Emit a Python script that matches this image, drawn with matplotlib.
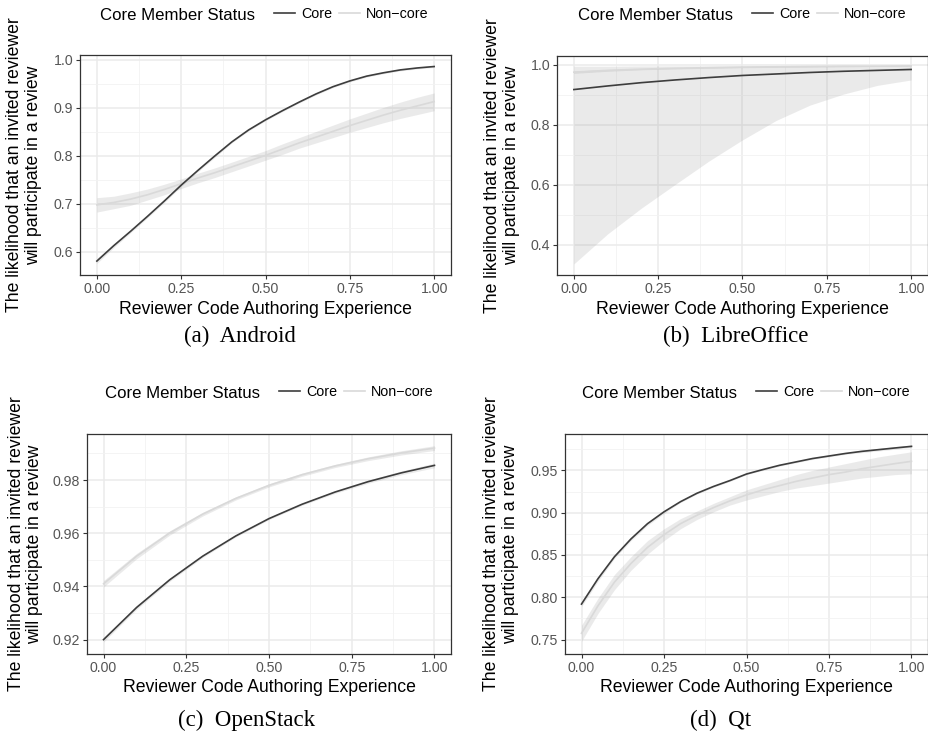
import matplotlib
matplotlib.use("Agg")
import matplotlib.pyplot as plt
from matplotlib.ticker import FixedLocator, FormatStrFormatter

# ---------------- data ----------------
experience = [0.0, 0.1, 0.2, 0.3, 0.4, 0.5, 0.6, 0.7, 0.8, 0.9, 1.0]
experience_fine = [0.0, 0.05, 0.1, 0.15, 0.2, 0.25, 0.3, 0.35, 0.4, 0.45, 0.5,
                   0.55, 0.6, 0.65, 0.7, 0.75, 0.8, 0.85, 0.9, 0.95, 1.0]
series_names = ["Core", "Non\u2212core"]

# (a) Android  (on experience_fine)
android_core = [0.581, 0.613, 0.643, 0.674, 0.706, 0.739, 0.770, 0.800, 0.829, 0.854, 0.875,
                0.894, 0.912, 0.929, 0.944, 0.956, 0.966, 0.973, 0.979, 0.983, 0.986]
android_core_lo = [0.576, 0.609, 0.640, 0.671, 0.703, 0.736, 0.767, 0.797, 0.827, 0.852, 0.873,
                   0.892, 0.910, 0.927, 0.942, 0.954, 0.964, 0.971, 0.977, 0.981, 0.984]
android_core_hi = [0.586, 0.617, 0.646, 0.677, 0.709, 0.742, 0.773, 0.803, 0.831, 0.856, 0.877,
                   0.896, 0.914, 0.931, 0.946, 0.958, 0.968, 0.975, 0.981, 0.985, 0.988]
android_non = [0.698, 0.703, 0.710, 0.719, 0.730, 0.742, 0.754, 0.765, 0.777, 0.789, 0.801,
               0.814, 0.827, 0.839, 0.851, 0.863, 0.874, 0.885, 0.895, 0.904, 0.913]
android_non_lo = [0.683, 0.690, 0.697, 0.708, 0.719, 0.732, 0.744, 0.755, 0.767, 0.779, 0.791,
                  0.803, 0.816, 0.827, 0.838, 0.849, 0.859, 0.869, 0.878, 0.886, 0.894]
android_non_hi = [0.713, 0.716, 0.723, 0.731, 0.741, 0.752, 0.764, 0.775, 0.787, 0.799, 0.811,
                  0.825, 0.838, 0.851, 0.864, 0.877, 0.889, 0.901, 0.912, 0.922, 0.931]

# (b) LibreOffice  (on experience)
libre_core = [0.918, 0.930, 0.941, 0.950, 0.958, 0.965, 0.970, 0.975, 0.979, 0.982, 0.985]
libre_core_lo = [0.336, 0.436, 0.522, 0.601, 0.679, 0.750, 0.815, 0.866, 0.903, 0.932, 0.950]
libre_core_hi = [0.996, 0.996, 0.997, 0.997, 0.997, 0.997, 0.998, 0.998, 0.998, 0.998, 0.998]
libre_non = [0.976, 0.982, 0.986, 0.989, 0.991, 0.993, 0.994, 0.995, 0.996, 0.996, 0.997]
libre_non_lo = [0.972, 0.979, 0.984, 0.987, 0.989, 0.991, 0.992, 0.993, 0.994, 0.995, 0.995]
libre_non_hi = [0.980, 0.985, 0.988, 0.991, 0.993, 0.994, 0.995, 0.996, 0.997, 0.997, 0.998]

# (c) OpenStack  (on experience)
openstack_core = [0.9200, 0.9321, 0.9425, 0.9514, 0.9590, 0.9655, 0.9709, 0.9755, 0.9794, 0.9827, 0.9855]
openstack_core_lo = [0.9191, 0.9314, 0.9419, 0.9509, 0.9586, 0.9651, 0.9705, 0.9750, 0.9788, 0.9820, 0.9846]
openstack_core_hi = [0.9209, 0.9328, 0.9431, 0.9519, 0.9594, 0.9659, 0.9713, 0.9760, 0.9800, 0.9834, 0.9864]
openstack_non = [0.9410, 0.9514, 0.9601, 0.9672, 0.9731, 0.9780, 0.9820, 0.9853, 0.9880, 0.9902, 0.9920]
openstack_non_lo = [0.9398, 0.9504, 0.9593, 0.9665, 0.9725, 0.9774, 0.9814, 0.9847, 0.9873, 0.9894, 0.9911]
openstack_non_hi = [0.9422, 0.9524, 0.9609, 0.9679, 0.9737, 0.9786, 0.9826, 0.9859, 0.9887, 0.9910, 0.9929]

# (d) Qt  (on experience_fine)
qt_core = [0.792, 0.822, 0.848, 0.869, 0.887, 0.901, 0.913, 0.923, 0.931, 0.938, 0.9457,
           0.951, 0.956, 0.960, 0.964, 0.967, 0.970, 0.9725, 0.9745, 0.9765, 0.9784]
qt_core_lo = [0.789, 0.819, 0.846, 0.867, 0.885, 0.899, 0.912, 0.922, 0.930, 0.937, 0.945,
              0.950, 0.955, 0.959, 0.963, 0.966, 0.969, 0.971, 0.973, 0.975, 0.977]
qt_core_hi = [0.795, 0.825, 0.850, 0.871, 0.889, 0.903, 0.914, 0.924, 0.932, 0.939, 0.9465,
              0.952, 0.957, 0.961, 0.965, 0.968, 0.971, 0.974, 0.976, 0.978, 0.980]
qt_non = [0.7575, 0.790, 0.818, 0.840, 0.859, 0.874, 0.887, 0.897, 0.906, 0.914, 0.921,
          0.927, 0.932, 0.937, 0.941, 0.945, 0.948, 0.952, 0.955, 0.958, 0.9607]
qt_non_lo = [0.748, 0.781, 0.809, 0.832, 0.851, 0.867, 0.881, 0.892, 0.901, 0.909, 0.915,
             0.920, 0.925, 0.929, 0.932, 0.935, 0.938, 0.941, 0.943, 0.945, 0.946]
qt_non_hi = [0.767, 0.799, 0.827, 0.848, 0.867, 0.881, 0.893, 0.902, 0.911, 0.919, 0.927,
             0.933, 0.939, 0.945, 0.950, 0.954, 0.958, 0.962, 0.966, 0.969, 0.972]

x_ticks = [0.0, 0.25, 0.5, 0.75, 1.0]
x_ticklabels = ["0.00", "0.25", "0.50", "0.75", "1.00"]
android_yticks = [0.6, 0.7, 0.8, 0.9, 1.0]
libre_yticks = [0.4, 0.6, 0.8, 1.0]
openstack_yticks = [0.92, 0.94, 0.96, 0.98]
qt_yticks = [0.75, 0.80, 0.85, 0.90, 0.95]

captions = ["(a)  Android", "(b)  LibreOffice", "(c)  OpenStack", "(d)  Qt"]
xlabel = "Reviewer Code Authoring Experience"
ylabel = "The likelihood that an invited reviewer\nwill participate in a review"
legend_title = "Core Member Status"

# ---------------- styling ----------------
W, H = 929, 737
fig = plt.figure(figsize=(W / 100, H / 100), dpi=100)
SANS = "Liberation Sans"
SERIF = "Liberation Serif"
CORE_C = "#3d3d3d"
NON_C = "#d9d9d9"
RIB_C = "#999999"
GRID_C = "#ebebeb"
TICK_C = "#555555"


def fx(px):
    return px / W


def fy(py):
    return 1 - py / H


panels = [
    dict(box=(80, 55, 451, 275), ylim=(0.552, 1.01), yticks=android_yticks, yfmt="%.1f",
         x=experience_fine,
         core=(android_core, android_core_lo, android_core_hi),
         non=(android_non, android_non_lo, android_non_hi),
         leg_x=100, leg_y=15, ylab_x=24, cap=(240, 336), xlab_y=309),
    dict(box=(557, 56, 928, 275), ylim=(0.299, 1.03), yticks=libre_yticks, yfmt="%.1f",
         x=experience,
         core=(libre_core, libre_core_lo, libre_core_hi),
         non=(libre_non, libre_non_lo, libre_non_hi),
         leg_x=578, leg_y=15, ylab_x=502, cap=(736, 336), xlab_y=309),
    dict(box=(87, 434, 451, 654), ylim=(0.9146, 0.9973), yticks=openstack_yticks, yfmt="%.2f",
         x=experience,
         core=(openstack_core, openstack_core_lo, openstack_core_hi),
         non=(openstack_non, openstack_non_lo, openstack_non_hi),
         leg_x=105, leg_y=393, ylab_x=25.5, cap=(247, 720), xlab_y=688),
    dict(box=(565, 434, 928, 654), ylim=(0.733, 0.993), yticks=qt_yticks, yfmt="%.2f",
         x=experience_fine,
         core=(qt_core, qt_core_lo, qt_core_hi),
         non=(qt_non, qt_non_lo, qt_non_hi),
         leg_x=582, leg_y=393, ylab_x=501, cap=(721, 720), xlab_y=688),
]

for i, p in enumerate(panels):
    l, t, r, b = p["box"]
    ax = fig.add_axes([fx(l), fy(b), (r - l) / W, (b - t) / H])
    ax.set_xlim(-0.05, 1.05)
    ax.set_ylim(*p["ylim"])

    # grid
    yt = p["yticks"]
    step = yt[1] - yt[0]
    yminor = [yt[0] - step / 2] + [v + step / 2 for v in yt]
    ax.xaxis.set_major_locator(FixedLocator(x_ticks))
    ax.xaxis.set_minor_locator(FixedLocator([0.125, 0.375, 0.625, 0.875]))
    ax.yaxis.set_major_locator(FixedLocator(yt))
    ax.yaxis.set_minor_locator(FixedLocator(yminor))
    ax.set_xticklabels(x_ticklabels)
    ax.yaxis.set_major_formatter(FormatStrFormatter(p["yfmt"]))
    ax.grid(which="major", color=GRID_C, lw=1.1, zorder=0)
    ax.grid(which="minor", color="#f2f2f2", lw=0.6, zorder=0)
    ax.set_axisbelow(True)
    ax.tick_params(which="minor", length=0)
    ax.tick_params(which="major", length=2.8, width=0.8, color="#333333",
                   labelsize=10.2, labelcolor=TICK_C, pad=2.2)
    for lab in ax.get_xticklabels() + ax.get_yticklabels():
        lab.set_fontfamily(SANS)
    for s in ax.spines.values():
        s.set_color("#333333")
        s.set_linewidth(0.9)

    xs = p["x"]
    c, clo, chi = p["core"]
    n, nlo, nhi = p["non"]
    ax.fill_between(xs, clo, chi, color=RIB_C, alpha=0.2, lw=0, zorder=1)
    ax.fill_between(xs, nlo, nhi, color=RIB_C, alpha=0.2, lw=0, zorder=1)
    l1, = ax.plot(xs, c, color=CORE_C, lw=1.2, zorder=3, label=series_names[0])
    l2, = ax.plot(xs, n, color=NON_C, lw=1.2, zorder=2, label=series_names[1])

    # legend (title on the left, keys horizontal)
    fig.text(fx(p["leg_x"]), fy(p["leg_y"]), legend_title, fontsize=12.1, family=SANS,
             ha="left", va="center", color="black")
    lx = p["leg_x"] + 174
    fig.legend(handles=[l1, l2], labels=series_names, loc="center left",
               bbox_to_anchor=(fx(lx), fy(p["leg_y"] - 0.5)), ncol=2, frameon=False,
               prop=dict(family=SANS, size=10.3), handlelength=1.5, handletextpad=0.42,
               columnspacing=0.42, borderpad=0, borderaxespad=0)

    # axis titles
    fig.text(fx((l + r) / 2), fy(p["xlab_y"]), xlabel, fontsize=12.7, family=SANS,
             ha="center", va="center")
    fig.text(fx(p["ylab_x"]), fy((t + b) / 2), ylabel, fontsize=12.7, family=SANS,
             ha="center", va="center", rotation=90, multialignment="center",
             linespacing=1.15)
    # caption
    fig.text(fx(p["cap"][0]), fy(p["cap"][1]), captions[i], fontsize=16.5, family=SERIF,
             ha="center", va="center")

fig.savefig("out.png", dpi=100)
